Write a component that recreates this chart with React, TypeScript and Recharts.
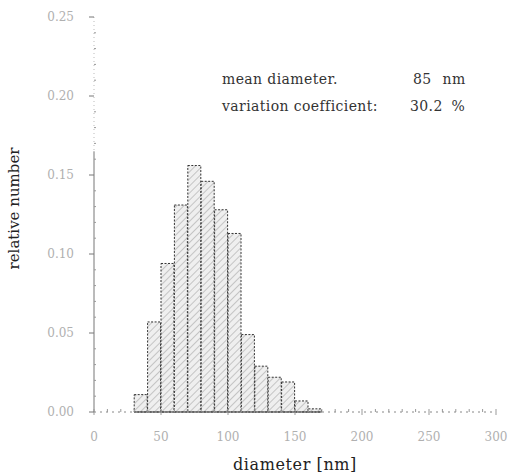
import React from 'react';
import { ComposedChart, Bar, XAxis, YAxis, ReferenceLine } from 'recharts';

// histogram bins (centre of each 10 nm class) and relative numbers
const binCenters = [35, 45, 55, 65, 75, 85, 95, 105, 115, 125, 135, 145, 155, 165];
const relNumber = [0.011, 0.057, 0.094, 0.131, 0.156, 0.146, 0.128, 0.113, 0.049, 0.029, 0.022, 0.019, 0.007, 0.002];

const xTicks = [0, 10, 20, 30, 40, 50, 60, 70, 80, 90, 100, 110, 120, 130, 140, 150, 160, 170, 180, 190, 200, 210, 220, 230, 240, 250, 260, 270, 280, 290, 300];
const xLabels = [0, 50, 100, 150, 200, 250, 300];
const yTicks = [0, 0.01, 0.02, 0.03, 0.04, 0.05, 0.06, 0.07, 0.08, 0.09, 0.1, 0.11, 0.12, 0.13, 0.14, 0.15, 0.16, 0.17, 0.18, 0.19, 0.2, 0.21, 0.22, 0.23, 0.24, 0.25];
const yLabels = ['0.00', '0.05', '0.10', '0.15', '0.20', '0.25'];

const data = binCenters.map((d, i) => ({ d, v: relNumber[i] }));

const serif = '"DejaVu Serif", "Liberation Serif", serif';

const YTick = (props: any) => {
    const { x, y, payload } = props;
    const hund = Math.round(payload.value * 100);
    const major = hund % 5 === 0;
    return (
        <g>
            {major ? (
                <line x1={x - 5} x2={x} y1={y} y2={y} stroke="#777" />
            ) : (
                <line x1={x} x2={x + 2} y1={y} y2={y} stroke="#999" />
            )}
            {major && (
                <text x={x - 20} y={y + 4} textAnchor="end" fontSize={12} fill="#b0b0b0" fontFamily={serif}>
                    {yLabels[hund / 5]}
                </text>
            )}
        </g>
    );
};

const XTick = (props: any) => {
    const { x, y, payload } = props;
    const major = xLabels.includes(payload.value);
    return (
        <g>
            <line x1={x} x2={x} y1={y - 3} y2={y + (major ? 3 : 0)} stroke="#999" />
            {major && (
                <text x={x} y={y + 29} textAnchor="middle" fontSize={12} fill="#b0b0b0" fontFamily={serif}>
                    {payload.value}
                </text>
            )}
        </g>
    );
};

export default function App() {
    return (
        <div style={{ position: 'absolute', left: 0, top: 0, width: 516, height: 474, background: '#fff' }}>
            <ComposedChart
                width={516}
                height={474}
                data={data}
                margin={{ top: 17, right: 20, bottom: 0, left: 0 }}
                barCategoryGap={0}
                barGap={0}
            >
                <defs>
                    <pattern id="hatch" width="5" height="5" patternUnits="userSpaceOnUse" patternTransform="rotate(45)">
                        <rect width="5" height="5" fill="#efefef" />
                        <line x1="0" y1="0" x2="0" y2="5" stroke="#9a9a9a" strokeWidth="1" />
                    </pattern>
                </defs>
                <XAxis
                    dataKey="d"
                    type="number"
                    domain={[0, 300]}
                    ticks={xTicks}
                    interval={0}
                    height={62}
                    tickSize={0}
                    tickMargin={0}
                    tick={<XTick />}
                    axisLine={{ stroke: '#888', strokeDasharray: '2 4' }}
                    label={{ value: 'diameter [nm]', position: 'insideBottom', offset: 4, fontSize: 16, fill: '#222', fontFamily: serif, letterSpacing: 0.6 }}
                />
                <YAxis
                    type="number"
                    domain={[0, 0.25]}
                    ticks={yTicks}
                    interval={0}
                    width={94}
                    tickSize={0}
                    tickMargin={0}
                    tick={<YTick />}
                    axisLine={{ stroke: '#bbb', strokeDasharray: '1 3' }}
                    label={{ value: 'relative number', angle: -90, position: 'insideLeft', offset: 14, fontSize: 15, fill: '#222', fontFamily: serif, dy: -6, textAnchor: 'middle' }}
                />
                <ReferenceLine segment={[{ x: 0, y: 0 }, { x: 0, y: 0.165 }]} stroke="#777" />
                <ReferenceLine segment={[{ x: 30, y: 0 }, { x: 170, y: 0 }]} stroke="#333" />
                <Bar
                    dataKey="v"
                    fill="url(#hatch)"
                    stroke="#333"
                    strokeWidth={1}
                    strokeDasharray="2 1.5"
                    isAnimationActive={false}
                />
            </ComposedChart>
            <div style={{ position: 'absolute', left: 222, top: 66, fontFamily: serif, fontSize: 14, color: '#333', lineHeight: '27px', whiteSpace: 'pre', letterSpacing: 0.4 }}>
                <div>
                    <span style={{ display: 'inline-block', width: 191 }}>mean diameter.</span>
                    <span style={{ wordSpacing: 6 }}>85 nm</span>
                </div>
                <div>
                    <span style={{ display: 'inline-block', width: 188 }}>variation coefficient:</span>
                    <span style={{ wordSpacing: 4 }}>30.2 %</span>
                </div>
            </div>
        </div>
    );
}
